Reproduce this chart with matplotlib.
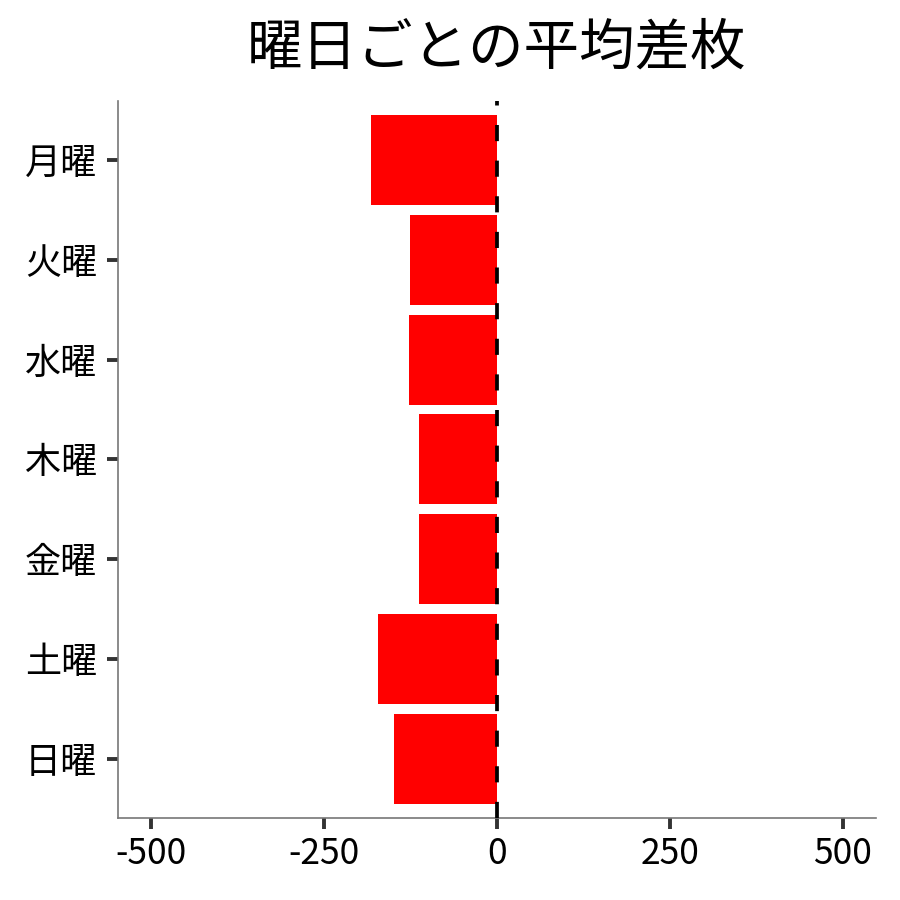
import numpy as np
import matplotlib
matplotlib.use('Agg')
import matplotlib.pyplot as plt

plt.rcParams['font.family'] = ['Noto Sans CJK JP', 'DejaVu Sans']

# データ
days = ['月曜', '火曜', '水曜', '木曜', '金曜', '土曜', '日曜']
avg_diff = [-182, -126, -127, -113, -113, -172, -149]
x_ticks = [-500, -250, 0, 250, 500]

fig = plt.figure(figsize=(9, 9), dpi=100)
ax = fig.add_axes([0.131, 0.091, 0.842, 0.797])

y_pos = np.arange(len(days))
ax.barh(y_pos, avg_diff, height=0.9, color='#ff0000', zorder=2)

# 0の位置に破線
ax.axvline(0, color='black', linewidth=2.7, linestyle=(0, (4.3, 5.2)), zorder=3)

ax.set_xlim(-548, 548)
ax.set_ylim(len(days) - 0.41, -0.59)
ax.set_yticks(y_pos)
ax.set_yticklabels(days, fontsize=26)
ax.set_xticks(x_ticks)
ax.set_xticklabels([str(v) for v in x_ticks], fontsize=25.5)

ax.tick_params(axis='both', length=8, width=2.8, color='#333333')
ax.tick_params(axis='y', pad=7)
ax.tick_params(axis='x', pad=5)
for side in ['top', 'right']:
    ax.spines[side].set_visible(False)
for side in ['left', 'bottom']:
    ax.spines[side].set_color('#777777')
    ax.spines[side].set_linewidth(1.2)

# タイトルはプロット領域の中央に
ax.set_title('曜日ごとの平均差枚', fontsize=40, pad=26)

plt.savefig('out.png', dpi=100)
